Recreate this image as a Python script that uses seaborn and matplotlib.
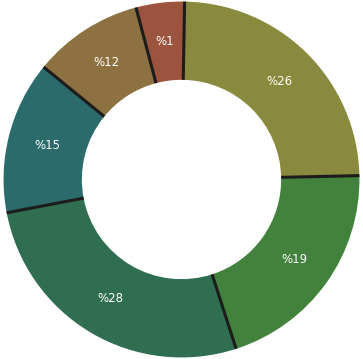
import numpy as np
import matplotlib
matplotlib.use("Agg")
import matplotlib.pyplot as plt
import seaborn as sns

# slices in clockwise order starting from the top
labels = ["%26", "%19", "%28", "%15", "%12", "%1"]
shares = [24.4, 20.4, 27.0, 13.9, 10.0, 4.4]
colors = ["#8A8A3F", "#42823C", "#2F6E50", "#2C6B6B", "#8D7141", "#9D543F"]

sns.set_theme(style="white")
plt.rcParams["font.family"] = ["DejaVu Sans"]

fig = plt.figure(figsize=(3.63, 3.59), dpi=100)
ax = fig.add_axes([0, 0, 1, 1])

start = 89.0
inner = 0.56
wedges, texts, autotexts = ax.pie(
    shares, colors=colors, startangle=start, counterclock=False,
    radius=1.0, wedgeprops=dict(width=1 - inner, linewidth=0),
    labels=None, autopct="%1.0f", pctdistance=0.78,
)
for t, lab in zip(autotexts, labels):
    t.set_text(lab)
    t.set_color("white")
    t.set_fontsize(8.5)
    t.set_fontweight("medium")

# dark separators at slice boundaries
bounds = start - np.cumsum([0] + shares) / sum(shares) * 360
for a in bounds[:-1]:
    r = np.radians(a)
    ax.plot([inner * np.cos(r), 1.0 * np.cos(r)], [inner * np.sin(r), 1.0 * np.sin(r)],
            color="#1c1c1c", lw=2.2, solid_capstyle="butt")

ax.set_xlim(-1.02, 1.02)
ax.set_ylim(-1.008, 1.008)
ax.set_aspect("equal")
ax.axis("off")
fig.savefig("out.png", dpi=100, facecolor="white")
